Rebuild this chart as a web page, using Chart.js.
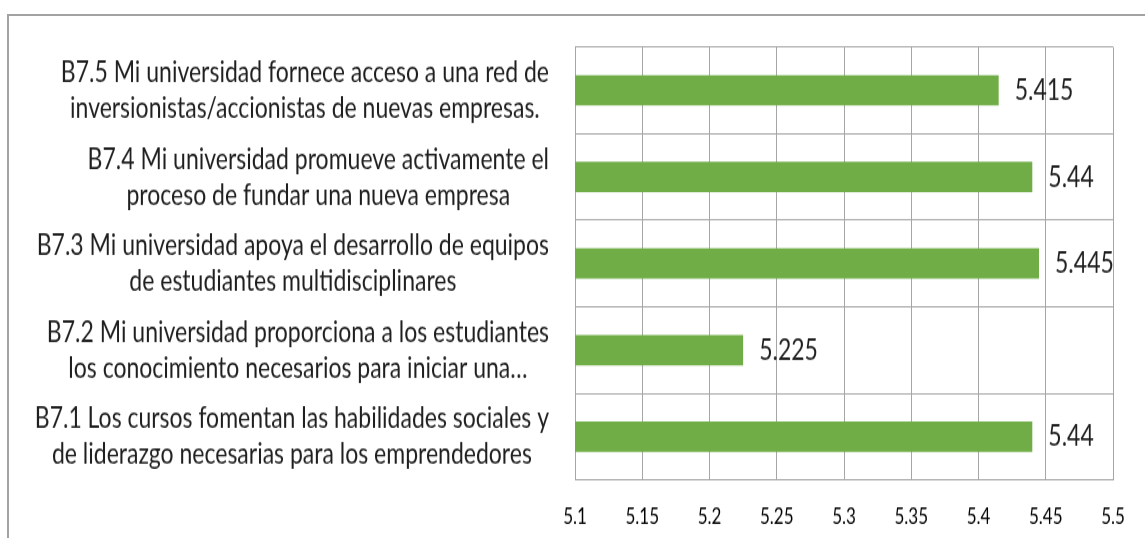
<!DOCTYPE html>
<html><head><meta charset="utf-8">
<script src="https://cdn.jsdelivr.net/npm/chart.js@4/dist/chart.umd.min.js"></script>
<style>
html,body{margin:0;padding:0;background:#fff;overflow:hidden;width:1145px;height:538px;}
#frame{position:absolute;left:7px;top:14px;width:1200px;height:600px;border:2px solid #a3a3a3;box-sizing:border-box;}
#wrap{position:absolute;left:0;top:0;width:1145px;height:420px;transform:scaleY(1.281);transform-origin:0 0;}
</style></head><body>
<div id="frame"></div>
<div id="wrap"><canvas id="c" width="1145" height="420" style="width:1145px;height:420px"></canvas></div>
<script>
const categories = [
  ["B7.5 Mi universidad fornece acceso a una red de", "inversionistas/accionistas de nuevas empresas."],
  ["B7.4 Mi universidad promueve activamente el", "proceso de fundar una nueva empresa"],
  ["B7.3 Mi universidad apoya el desarrollo de equipos", "de estudiantes multidisciplinares"],
  ["B7.2 Mi universidad proporciona a los estudiantes", "los conocimiento necesarios para iniciar una…"],
  ["B7.1 Los cursos fomentan las habilidades sociales y", "de liderazgo necesarias para los emprendedores"]
];
const values = [5.415, 5.44, 5.445, 5.225, 5.44];
const valueLabels = ["5.415", "5.44", "5.445", "5.225", "5.44"];
const xTickLabels = ["5.1", "5.15", "5.2", "5.25", "5.3", "5.35", "5.4", "5.45", "5.5"];

const FONT = 'Lato';
const labelPlugin = {
  id: 'labels',
  afterDatasetsDraw(chart) {
    const ctx = chart.ctx;
    const yScale = chart.scales.y;
    const meta = chart.getDatasetMeta(0);
    ctx.save();
    ctx.fillStyle = '#1f1f1f';
    ctx.font = '23px ' + FONT;
    ctx.textAlign = 'left';
    ctx.textBaseline = 'middle';
    meta.data.forEach((bar, i) => {
      ctx.fillText(valueLabels[i], bar.x + 16, bar.y);
    });
    ctx.font = '23px ' + FONT;
    ctx.textAlign = 'center';
    const rightEdge = yScale.right - 26;
    categories.forEach((lines, i) => {
      const cy = yScale.getPixelForValue(i);
      const widest = Math.max(...lines.map(l => ctx.measureText(l).width));
      const cx = rightEdge - widest / 2;
      lines.forEach((l, j) => {
        ctx.fillText(l, cx, cy + (j - (lines.length - 1) / 2) * 28);
      });
    });
    ctx.restore();
  }
};

new Chart(document.getElementById('c'), {
  type: 'bar',
  data: {
    labels: categories.map(c => c.join(' ')),
    datasets: [{
      data: values,
      backgroundColor: '#70ad47',
      barPercentage: 0.35,
      categoryPercentage: 1
    }]
  },
  plugins: [labelPlugin],
  options: {
    indexAxis: 'y',
    responsive: false,
    animation: false,
    devicePixelRatio: 1,
    layout: { padding: { top: 36.7, right: 32, bottom: 0, left: 0 } },
    plugins: { legend: { display: false }, tooltip: { enabled: false } },
    scales: {
      x: {
        type: 'linear', min: 5.1, max: 5.5,
        ticks: { stepSize: 0.05, padding: 19, color: '#000', font: { family: FONT, size: 17 },
                 callback: (v, i) => xTickLabels[i] },
        grid: { color: '#a6a6a6', drawTicks: false },
        border: { color: '#a6a6a6' },
        afterFit(s) { s.height = 45.3; s.paddingLeft = 0; s.paddingRight = 0; }
      },
      y: {
        ticks: { display: false },
        grid: { color: '#a6a6a6', drawTicks: false, offset: true },
        border: { color: '#a6a6a6' },
        afterFit(s) { s.width = 575; s.paddingTop = 0; s.paddingBottom = 0; }
      }
    }
  }
});
</script>
</body></html>
